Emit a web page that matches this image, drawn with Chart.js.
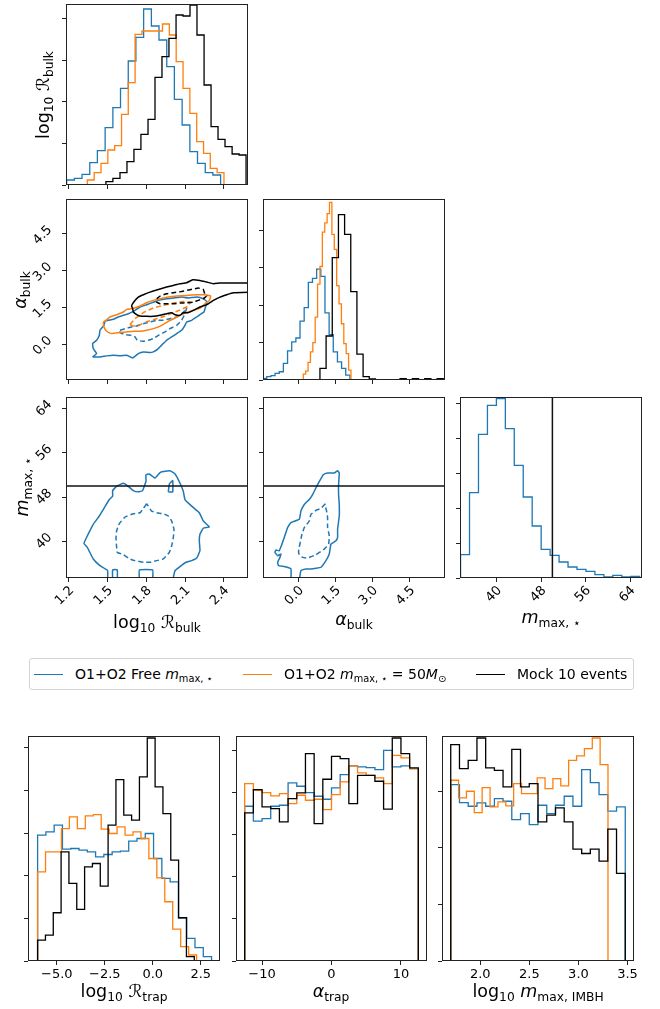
<!DOCTYPE html>
<html>
<head>
<meta charset="utf-8">
<title>corner plot</title>
<script src="https://cdn.jsdelivr.net/npm/chart.js@4.4.1/dist/chart.umd.min.js"></script>
<style>
body { margin: 0; background: #fff; }
#fig { position: relative; width: 660px; height: 1009px; overflow: hidden; font-family: 'DejaVu Sans', sans-serif; color: #000; }
.panel { position: absolute; }
.lab { position: absolute; white-space: nowrap; font-size: 17.5px; line-height: 1; transform: translate(-50%, -50%); }
.lab.v { transform: translate(-50%, -50%) rotate(-90deg); }
sub { font-size: 70%; vertical-align: -0.28em; line-height: 0; }
i { font-style: italic; }
#legend { position: absolute; left: 29px; top: 658px; width: 603px; height: 30px; border: 1px solid #d4d4d4; border-radius: 3px; font-size: 14px; }
.key { position: absolute; top: 15px; width: 29px; border-top: 1.5px solid; }
.ltxt { position: absolute; top: 50%; transform: translateY(-50%); white-space: nowrap; line-height: 1; }
</style>
</head>
<body>
<div id="fig"></div>
<script>
const C_FREE = '#1f77b4';
const C_FIXED = '#ff7f0e';
const C_MOCK = '#000000';
const INK = '#222222';

const seriesLabels = [
  'O1+O2 Free <i>m</i><sub>max, ⋆</sub>',
  'O1+O2 <i>m</i><sub>max, ⋆</sub> = 50<i>M</i><sub>⊙</sub>',
  'Mock 10 events'
];
const mMaxTruth = 50;

// ---- axis ranges and ticks
const rBulkRange = [1.177, 2.586];
const aBulkRange = [-1.44, 5.92];
const mMaxRange = [33.4, 66.1];
const rTrapRange = [-6.5, 3.5];
const aTrapRange = [-13.75, 13.75];
const mImbhRange = [1.61, 3.566];

const rBulkTicks = [1.2, 1.5, 1.8, 2.1, 2.4];
const aBulkTicks = [0, 1.5, 3, 4.5];
const mMaxTicks = [40, 48, 56, 64];
const rTrapTicks = [-5, -2.5, 0, 2.5];
const aTrapTicks = [-10, 0, 10];
const mImbhTicks = [2, 2.5, 3, 3.5];

const rBulkHistTicks = [0, 125, 250, 375, 500];
const aBulkHistTicks = [0, 113, 226, 339, 452];
const mMaxHistTicks = [0, 105, 210, 315, 420, 525];
const rTrapHistTicks = [0, 128, 256, 384, 512, 640];
const aTrapHistTicks = [0, 127, 253, 380, 507, 633];
const mImbhHistTicks = [0, 170, 340, 510];
const rBulkHistTop = 543;
const aBulkHistTop = 547;
const mMaxHistTop = 543;
const trapHistTop = 676;

// ---- log10 R_bulk histograms
const rBulkEdgesFree = [1.182, 1.242, 1.301, 1.361, 1.420, 1.480, 1.540, 1.599, 1.659, 1.718, 1.778, 1.838, 1.897, 1.957, 2.016, 2.076, 2.136, 2.195, 2.255, 2.314, 2.374];
const rBulkCountsFree = [15, 20, 32, 67, 103, 172, 232, 290, 372, 443, 528, 477, 435, 355, 257, 180, 100, 65, 37, 30];
const rBulkEdgesFixed = [1.342, 1.395, 1.448, 1.501, 1.554, 1.607, 1.659, 1.712, 1.765, 1.818, 1.871, 1.924, 1.977, 2.030, 2.083, 2.136, 2.189, 2.242, 2.294, 2.347, 2.400];
const rBulkCountsFixed = [15, 37, 65, 105, 118, 212, 307, 452, 462, 462, 462, 483, 450, 370, 290, 215, 130, 95, 50, 37];
const rBulkEdgesMock = [1.486, 1.540, 1.595, 1.649, 1.703, 1.757, 1.812, 1.866, 1.920, 1.974, 2.029, 2.083, 2.137, 2.191, 2.246, 2.300, 2.354, 2.408, 2.463, 2.517, 2.571];
const rBulkCountsMock = [10, 20, 37, 70, 107, 152, 197, 323, 385, 440, 510, 507, 540, 450, 300, 175, 137, 115, 93, 90];

// ---- alpha_bulk histograms
const aBulkEdgesFree = [-1.456, -1.288, -1.120, -0.952, -0.784, -0.616, -0.447, -0.279, -0.111, 0.057, 0.225, 0.393, 0.561, 0.729, 0.897, 1.066, 1.234, 1.402, 1.570, 1.738, 1.906, 2.074];
const aBulkCountsFree = [5, 10, 13, 20, 25, 50, 88, 115, 127, 178, 219, 295, 307, 335, 313, 203, 137, 85, 55, 35, 15];
const aBulkEdgesFixed = [0.189, 0.285, 0.382, 0.478, 0.575, 0.671, 0.767, 0.864, 0.960, 1.057, 1.153, 1.249, 1.346, 1.442, 1.539, 1.635, 1.731, 1.828, 1.924, 2.021, 2.117];
const aBulkCountsFixed = [18, 27, 53, 85, 113, 190, 290, 343, 447, 475, 503, 537, 440, 395, 285, 230, 170, 110, 80, 30];
const aBulkEdgesMock = [0.863, 1.112, 1.361, 1.611, 1.860, 2.109, 2.358, 2.608, 2.857, 3.106, 3.356, 3.605, 3.854, 4.103, 4.353, 4.602, 4.851, 5.101, 5.350, 5.599, 5.848];
const aBulkCountsMock = [35, 133, 370, 500, 440, 267, 78, 10, 3, 0, 0, 0, 0, 4, 0, 4, 0, 4, 0, 4];

// ---- m_max,* histogram (free run only)
const mMaxEdgesFree = [33.50, 35.11, 36.72, 38.33, 39.94, 41.55, 43.15, 44.76, 46.37, 47.98, 49.59, 51.20, 52.81, 54.42, 56.03, 57.64, 59.25, 60.86, 62.47, 64.08, 65.68];
const mMaxCountsFree = [70, 256, 431, 518, 538, 448, 338, 243, 156, 86, 68, 48, 33, 26, 20, 10, 3, 8, 3, 5];

// ---- 2D contours, alpha_bulk vs log10 R_bulk
const raFreeOuter = [[1.383,-0.500],[1.414,-0.365],[1.388,-0.162],[1.383,0.041],[1.414,0.176],[1.435,0.378],[1.440,0.581],[1.471,0.784],[1.479,0.946],[1.505,0.987],[1.543,1.027],[1.582,1.122],[1.659,1.257],[1.698,1.351],[1.750,1.527],[1.801,1.622],[1.858,1.730],[1.892,1.797],[1.956,1.865],[2.008,1.892],[2.072,1.932],[2.124,1.892],[2.189,1.932],[2.240,1.865],[2.266,1.757],[2.261,1.595],[2.253,1.459],[2.245,1.324],[2.214,1.216],[2.189,1.122],[2.150,0.987],[2.111,0.919],[2.098,0.784],[2.072,0.581],[2.034,0.446],[1.995,0.311],[1.956,0.176],[1.930,0.041],[1.892,-0.162],[1.853,-0.297],[1.827,-0.324],[1.776,-0.297],[1.737,-0.365],[1.693,-0.541],[1.647,-0.432],[1.600,-0.459],[1.543,-0.432],[1.492,-0.459],[1.440,-0.500],[1.401,-0.500],[1.383,-0.500]];
const raFreeInner = [[1.595,0.581],[1.634,0.649],[1.685,0.716],[1.724,0.757],[1.776,0.851],[1.827,0.919],[1.879,0.987],[1.930,0.987],[1.982,1.054],[2.034,1.122],[2.072,1.257],[2.098,1.392],[2.111,1.487],[2.098,1.257],[2.072,0.987],[2.034,0.784],[1.982,0.649],[1.943,0.514],[1.892,0.378],[1.853,0.243],[1.814,0.176],[1.770,0.135],[1.729,0.176],[1.711,0.311],[1.685,0.378],[1.634,0.405],[1.595,0.487],[1.595,0.581]];
const raFixedOuter = [[1.466,0.919],[1.486,0.987],[1.517,1.122],[1.569,1.216],[1.621,1.324],[1.647,1.432],[1.685,1.459],[1.750,1.568],[1.801,1.703],[1.853,1.797],[1.905,1.865],[1.969,1.932],[2.034,1.973],[2.111,2.000],[2.189,2.027],[2.253,2.027],[2.297,1.973],[2.287,1.797],[2.253,1.662],[2.227,1.527],[2.189,1.432],[2.137,1.351],[2.072,1.216],[2.021,1.081],[1.969,0.946],[1.918,0.784],[1.853,0.649],[1.801,0.581],[1.750,0.541],[1.698,0.541],[1.647,0.514],[1.595,0.487],[1.530,0.446],[1.492,0.541],[1.471,0.716],[1.466,0.919]];
const raFixedInner = [[1.672,0.811],[1.711,1.054],[1.776,1.297],[1.853,1.487],[1.930,1.595],[2.008,1.689],[2.085,1.757],[2.137,1.730],[2.124,1.568],[2.072,1.432],[2.008,1.297],[1.943,1.162],[1.879,1.054],[1.814,0.946],[1.750,0.811],[1.698,0.757],[1.672,0.811]];
const raMockOuter = [[2.620,2.500],[2.472,2.500],[2.369,2.500],[2.318,2.473],[2.266,2.541],[2.214,2.608],[2.158,2.635],[2.111,2.514],[2.059,2.473],[2.008,2.405],[1.956,2.338],[1.892,2.243],[1.827,2.135],[1.776,2.027],[1.737,1.932],[1.711,1.797],[1.693,1.662],[1.685,1.568],[1.693,1.459],[1.698,1.324],[1.724,1.216],[1.750,1.162],[1.801,1.149],[1.853,1.149],[1.905,1.189],[1.956,1.257],[1.995,1.297],[2.021,1.216],[2.059,1.189],[2.085,1.297],[2.124,1.297],[2.163,1.392],[2.214,1.527],[2.266,1.622],[2.318,1.797],[2.369,1.932],[2.421,2.027],[2.472,2.108],[2.620,2.135]];
const raMockInner = [[1.879,1.865],[1.905,1.973],[1.956,2.068],[2.008,2.108],[2.072,2.162],[2.137,2.230],[2.201,2.297],[2.240,2.243],[2.253,2.027],[2.266,1.973],[2.240,1.865],[2.201,1.797],[2.163,1.730],[2.111,1.703],[2.059,1.689],[2.008,1.662],[1.956,1.662],[1.905,1.662],[1.879,1.730],[1.879,1.865]];

// ---- 2D contours, m_max,* vs log10 R_bulk (free run)
const rmFreeOuter = [[1.499,33.0],[1.499,34.75],[1.440,35.64],[1.388,36.84],[1.342,38.93],[1.316,39.64],[1.342,41.01],[1.388,43.10],[1.435,44.60],[1.471,45.97],[1.512,47.58],[1.538,48.18],[1.538,49.19],[1.569,49.97],[1.621,50.51],[1.659,49.97],[1.698,49.19],[1.737,48.96],[1.770,49.19],[1.796,50.87],[1.796,52.06],[1.822,52.18],[1.866,51.46],[1.910,52.54],[1.982,52.78],[2.021,52.18],[2.059,50.57],[2.085,49.07],[2.098,47.58],[2.150,46.39],[2.209,45.19],[2.240,43.70],[2.287,42.63],[2.240,42.39],[2.214,41.31],[2.209,40.12],[2.214,38.33],[2.189,37.01],[2.150,36.54],[2.106,36.24],[2.059,35.46],[2.021,34.75],[2.003,33.0]];
const rmFreeBitA = [[1.538,33.0],[1.538,34.87],[1.574,34.87],[1.574,33.0]];
const rmFreeBitB = [[1.745,33.0],[1.745,34.87],[1.848,34.87],[1.848,33.0]];
const rmFreeLoop = [[1.969,48.96],[1.977,50.39],[2.003,50.99],[2.003,48.96],[1.969,48.96]];
const rmFreeInner = [[1.801,46.81],[1.776,45.97],[1.750,45.19],[1.698,45.01],[1.634,44.42],[1.590,43.22],[1.569,41.91],[1.564,40.60],[1.569,38.93],[1.574,38.03],[1.621,37.61],[1.672,36.84],[1.711,36.54],[1.776,36.24],[1.827,36.24],[1.879,36.54],[1.930,36.84],[1.977,38.03],[1.995,39.22],[2.008,40.72],[2.013,42.21],[1.995,43.70],[1.969,44.60],[1.930,45.01],[1.879,45.19],[1.840,45.49],[1.814,46.39],[1.801,46.81]];

// ---- 2D contours, m_max,* vs alpha_bulk (free run)
const amFreeOuter = [[-0.310,33.0],[-0.310,35.04],[-0.580,35.46],[-0.809,35.64],[-0.849,36.24],[-0.755,37.13],[-0.714,37.73],[-0.849,37.43],[-0.957,38.03],[-0.916,38.45],[-0.782,38.33],[-0.674,39.52],[-0.580,40.72],[-0.445,42.51],[-0.310,43.40],[0.027,44.00],[0.094,45.49],[0.229,46.69],[0.431,47.58],[0.566,48.48],[0.768,50.27],[0.903,51.34],[0.997,52.06],[1.172,52.36],[1.442,52.36],[1.577,52.78],[1.644,52.36],[1.617,50.27],[1.617,48.48],[1.644,46.69],[1.644,44.60],[1.577,42.21],[1.577,40.72],[1.509,40.12],[1.307,39.52],[1.240,37.73],[1.105,36.54],[0.903,35.34],[0.701,35.16],[0.499,35.04],[0.296,35.04],[0.094,34.75],[0.027,33.0]];
const amFreeInner = [[1.078,46.81],[0.903,45.97],[0.701,45.61],[0.499,44.90],[0.431,43.70],[0.229,42.51],[0.135,41.31],[0.000,38.33],[0.027,37.61],[0.162,37.13],[0.364,37.01],[0.701,37.61],[1.038,38.63],[1.213,39.52],[1.240,41.01],[1.172,42.51],[1.172,44.30],[1.132,45.49],[1.078,46.39],[1.078,46.81]];

// ---- log10 R_trap histograms
const rTrapEdgesFree = [-6.000, -5.569, -5.137, -4.706, -4.274, -3.843, -3.412, -2.980, -2.549, -2.117, -1.686, -1.254, -0.823, -0.392, 0.040, 0.471, 0.903, 1.334, 1.766, 2.197, 2.629, 3.060];
const rTrapCountsFree = [378, 388, 408, 336, 338, 333, 328, 313, 320, 328, 330, 360, 368, 383, 308, 248, 238, 130, 68, 40, 13];
const rTrapEdgesFixed = [-6.000, -5.586, -5.172, -4.758, -4.344, -3.930, -3.516, -3.102, -2.688, -2.274, -1.860, -1.446, -1.032, -0.618, -0.204, 0.210, 0.624, 1.038, 1.452, 1.866, 2.280];
const rTrapCountsFixed = [268, 328, 328, 398, 433, 398, 436, 440, 396, 383, 403, 378, 388, 368, 308, 250, 178, 96, 43, 18];
const rTrapEdgesMock = [-6.000, -5.592, -5.184, -4.776, -4.368, -3.960, -3.552, -3.144, -2.736, -2.328, -1.920, -1.512, -1.104, -0.696, -0.288, 0.120, 0.528, 0.936, 1.344, 1.752, 2.160];
const rTrapCountsMock = [63, 78, 145, 328, 233, 155, 283, 293, 225, 408, 545, 438, 423, 553, 670, 523, 443, 303, 130, 13];

// ---- alpha_trap histograms
const aTrapEdges = [-12.5, -11.25, -10, -8.75, -7.5, -6.25, -5, -3.75, -2.5, -1.25, 0, 1.25, 2.5, 3.75, 5, 6.25, 7.5, 8.75, 10, 11.25, 12.5];
const aTrapCountsFree = [465, 420, 428, 465, 468, 535, 525, 506, 495, 486, 520, 560, 586, 583, 581, 575, 633, 583, 586, 578];
const aTrapCountsFixed = [533, 513, 506, 496, 503, 473, 498, 483, 486, 455, 500, 538, 586, 565, 558, 550, 533, 618, 610, 578];
const aTrapCountsMock = [445, 515, 463, 458, 418, 488, 505, 623, 413, 546, 615, 608, 473, 558, 558, 540, 456, 670, 623, 580];

// ---- log10 m_max,IMBH histograms
const mImbhEdgesWide = [1.699, 1.788, 1.877, 1.966, 2.055, 2.144, 2.232, 2.321, 2.410, 2.499, 2.588, 2.677, 2.766, 2.855, 2.944, 3.033, 3.121, 3.210, 3.299, 3.388, 3.477];
const mImbhEdgesFixed = [1.699, 1.779, 1.859, 1.939, 2.019, 2.100, 2.180, 2.260, 2.340, 2.420, 2.500, 2.580, 2.660, 2.740, 2.820, 2.900, 2.981, 3.061, 3.141, 3.221, 3.301];
const mImbhCountsFree = [530, 476, 465, 475, 465, 488, 480, 425, 443, 410, 468, 443, 468, 495, 465, 575, 536, 500, 450, 463];
const mImbhCountsFixed = [543, 490, 510, 446, 521, 463, 478, 466, 533, 503, 503, 550, 518, 548, 526, 603, 616, 638, 670, 590];
const mImbhCountsMock = [650, 578, 603, 670, 580, 573, 523, 636, 523, 533, 418, 438, 460, 418, 336, 323, 336, 300, 396, 263];

// ---- helpers
const fig = document.getElementById('fig');
const f1 = v => v.toFixed(1).replace('-', '\u2212');
const f0 = v => String(v).replace('-', '\u2212');

// draws the box round each plot area (spines)
const frame = {
  id: 'frame',
  afterDatasetsDraw(chart) {
    const { ctx, chartArea: a } = chart;
    ctx.save();
    ctx.strokeStyle = INK;
    ctx.lineWidth = 1;
    const l = Math.round(a.left) + 0.5, t = Math.round(a.top) + 0.5;
    ctx.strokeRect(l, t, Math.round(a.right) - Math.round(a.left) - 1, Math.round(a.bottom) - Math.round(a.top) - 1);
    ctx.restore();
  }
};

function hist(edges, counts, color, order) {
  const pts = [{ x: edges[0], y: 0 }];
  counts.forEach((c, i) => pts.push({ x: edges[i], y: c }));
  pts.push({ x: edges[edges.length - 1], y: 0 });
  return { data: pts, showLine: true, stepped: true, borderColor: color, borderWidth: 1.3,
           pointRadius: 0, fill: false, clip: 0, order };
}

function contour(path, color, dashed, order) {
  return { data: path.map(p => ({ x: p[0], y: p[1] })), showLine: true, borderColor: color,
           borderWidth: 1.5, borderDash: dashed ? [5, 3] : [], tension: 0.1,
           pointRadius: 0, fill: false, clip: 0, order };
}

function line(pts) {
  return { data: pts, showLine: true, borderColor: '#111', borderWidth: 1.5, pointRadius: 0, clip: 0, order: -1 };
}

function scaleOpts(ax, dir, size) {
  const rot = ax.rot ? 45 : 0;
  return {
    type: 'linear', position: dir === 'x' ? 'bottom' : 'left',
    min: ax.range[0], max: ax.range[1],
    afterBuildTicks: s => { s.ticks = ax.ticks.map(v => ({ value: v })); },
    afterFit: s => { if (dir === 'x') s.height = size; else s.width = size; },
    border: { display: false },
    grid: { display: true, drawOnChartArea: false, drawTicks: true, tickLength: 4, color: INK, lineWidth: 1 },
    ticks: {
      display: !!ax.fmt, autoSkip: false, minRotation: rot, maxRotation: rot,
      padding: ax.pad || 0, labelOffset: ax.off || 0,
      color: '#000', font: { family: 'DejaVu Sans', size: 13 },
      callback: v => (ax.fmt ? ax.fmt(v) : '')
    }
  };
}

function addPanel(box, xAx, yAx, datasets, m) {
  const div = document.createElement('div');
  div.className = 'panel';
  div.style.left = (box[0] - m.l) + 'px';
  div.style.top = (box[1] - m.t) + 'px';
  div.style.width = (box[2] + m.l + m.r) + 'px';
  div.style.height = (box[3] + m.t + m.b) + 'px';
  const cv = document.createElement('canvas');
  div.appendChild(cv);
  fig.appendChild(div);
  return new Chart(cv, {
    type: 'scatter',
    data: { datasets },
    options: {
      responsive: true, maintainAspectRatio: false, animation: false, events: [],
      layout: { padding: { left: 0, top: m.t, right: m.r, bottom: 0 } },
      plugins: { legend: { display: false }, tooltip: { enabled: false } },
      scales: { x: scaleOpts(xAx, 'x', m.b), y: scaleOpts(yAx, 'y', m.l) }
    },
    plugins: [frame]
  });
}

// ---- layout of the panels (plot boxes in page pixels)
const COLS = [66, 263, 460];
const ROWS = [4, 199, 397];
const CW = 182, CH = 181;
const MT = { l: 50, r: 10, t: 26, b: 50 };
const MB = { l: 30, r: 10, t: 26, b: 30 };
const xRot = { rot: true, pad: 1, off: 3 };
const yRot = { rot: true, pad: 12, off: -6 };

// corner: row 0
addPanel([COLS[0], ROWS[0], CW, CH],
  { range: rBulkRange, ticks: rBulkTicks },
  { range: [0, rBulkHistTop], ticks: rBulkHistTicks },
  [hist(rBulkEdgesFree, rBulkCountsFree, C_FREE, 2),
   hist(rBulkEdgesFixed, rBulkCountsFixed, C_FIXED, 1),
   hist(rBulkEdgesMock, rBulkCountsMock, C_MOCK, 0)], MT);

// corner: row 1
addPanel([COLS[0], ROWS[1], CW, CH],
  { range: rBulkRange, ticks: rBulkTicks },
  Object.assign({ range: aBulkRange, ticks: aBulkTicks, fmt: f1 }, yRot),
  [contour(raFreeOuter, C_FREE, false, 5), contour(raFreeInner, C_FREE, true, 4),
   contour(raFixedOuter, C_FIXED, false, 3), contour(raFixedInner, C_FIXED, true, 2),
   contour(raMockOuter, C_MOCK, false, 1), contour(raMockInner, C_MOCK, true, 0)], MT);

addPanel([COLS[1], ROWS[1], CW, CH],
  { range: aBulkRange, ticks: aBulkTicks },
  { range: [0, aBulkHistTop], ticks: aBulkHistTicks },
  [hist(aBulkEdgesFree, aBulkCountsFree, C_FREE, 2),
   hist(aBulkEdgesFixed, aBulkCountsFixed, C_FIXED, 1),
   hist(aBulkEdgesMock, aBulkCountsMock, C_MOCK, 0)], MT);

// corner: row 2
addPanel([COLS[0], ROWS[2], CW, CH],
  Object.assign({ range: rBulkRange, ticks: rBulkTicks, fmt: f1 }, xRot),
  Object.assign({ range: mMaxRange, ticks: mMaxTicks, fmt: f0 }, yRot),
  [contour(rmFreeOuter, C_FREE, false, 2), contour(rmFreeBitA, C_FREE, false, 2),
   contour(rmFreeBitB, C_FREE, false, 2), contour(rmFreeLoop, C_FREE, false, 2),
   contour(rmFreeInner, C_FREE, true, 1),
   line([{ x: rBulkRange[0], y: mMaxTruth }, { x: rBulkRange[1], y: mMaxTruth }])], MT);

addPanel([COLS[1], ROWS[2], CW, CH],
  Object.assign({ range: aBulkRange, ticks: aBulkTicks, fmt: f1 }, xRot),
  { range: mMaxRange, ticks: mMaxTicks },
  [contour(amFreeOuter, C_FREE, false, 2), contour(amFreeInner, C_FREE, true, 1),
   line([{ x: aBulkRange[0], y: mMaxTruth }, { x: aBulkRange[1], y: mMaxTruth }])], MT);

addPanel([COLS[2], ROWS[2], CW, CH],
  Object.assign({ range: mMaxRange, ticks: mMaxTicks, fmt: f0 }, xRot),
  { range: [0, mMaxHistTop], ticks: mMaxHistTicks },
  [hist(mMaxEdgesFree, mMaxCountsFree, C_FREE, 1),
   line([{ x: mMaxTruth, y: 0 }, { x: mMaxTruth, y: mMaxHistTop }])], MT);

// bottom row
addPanel([28, 736, 192, 225],
  { range: rTrapRange, ticks: rTrapTicks, fmt: f1, pad: 2 },
  { range: [0, trapHistTop], ticks: rTrapHistTicks },
  [hist(rTrapEdgesFree, rTrapCountsFree, C_FREE, 2),
   hist(rTrapEdgesFixed, rTrapCountsFixed, C_FIXED, 1),
   hist(rTrapEdgesMock, rTrapCountsMock, C_MOCK, 0)], MB);

addPanel([236, 736, 191, 225],
  { range: aTrapRange, ticks: aTrapTicks, fmt: f0, pad: 2 },
  { range: [0, trapHistTop], ticks: aTrapHistTicks },
  [hist(aTrapEdges, aTrapCountsFree, C_FREE, 2),
   hist(aTrapEdges, aTrapCountsFixed, C_FIXED, 1),
   hist(aTrapEdges, aTrapCountsMock, C_MOCK, 0)], MB);

addPanel([442, 736, 192, 225],
  { range: mImbhRange, ticks: mImbhTicks, fmt: f1, pad: 2 },
  { range: [0, trapHistTop], ticks: mImbhHistTicks },
  [hist(mImbhEdgesWide, mImbhCountsFree, C_FREE, 2),
   hist(mImbhEdgesFixed, mImbhCountsFixed, C_FIXED, 1),
   hist(mImbhEdgesWide, mImbhCountsMock, C_MOCK, 0)], MB);

// ---- axis titles
const titles = [
  { html: 'log<sub>10</sub> ℛ<sub>bulk</sub>', x: 44, y: 95, v: true },
  { html: '<i>α</i><sub>bulk</sub>', x: 21, y: 290, v: true },
  { html: '<i>m</i><sub>max, ⋆</sub>', x: 23, y: 487, v: true },
  { html: 'log<sub>10</sub> ℛ<sub>bulk</sub>', x: 157, y: 623 },
  { html: '<i>α</i><sub>bulk</sub>', x: 354, y: 620 },
  { html: '<i>m</i><sub>max, ⋆</sub>', x: 551, y: 618 },
  { html: 'log<sub>10</sub> ℛ<sub>trap</sub>', x: 124, y: 992 },
  { html: '<i>α</i><sub>trap</sub>', x: 331, y: 992 },
  { html: 'log<sub>10</sub> <i>m</i><sub>max, IMBH</sub>', x: 538, y: 992 }
];
titles.forEach(t => {
  const el = document.createElement('div');
  el.className = 'lab' + (t.v ? ' v' : '');
  el.style.left = t.x + 'px';
  el.style.top = t.y + 'px';
  el.innerHTML = t.html;
  fig.appendChild(el);
});

// ---- legend
const legend = document.createElement('div');
legend.id = 'legend';
const keyX = [4, 213, 446];
const txtX = [45, 254, 487];
[C_FREE, C_FIXED, C_MOCK].forEach((c, i) => {
  const k = document.createElement('span');
  k.className = 'key';
  k.style.left = keyX[i] + 'px';
  k.style.borderColor = c;
  legend.appendChild(k);
  const t = document.createElement('span');
  t.className = 'ltxt';
  t.style.left = txtX[i] + 'px';
  t.innerHTML = seriesLabels[i];
  legend.appendChild(t);
});
fig.appendChild(legend);
</script>
</body>
</html>
